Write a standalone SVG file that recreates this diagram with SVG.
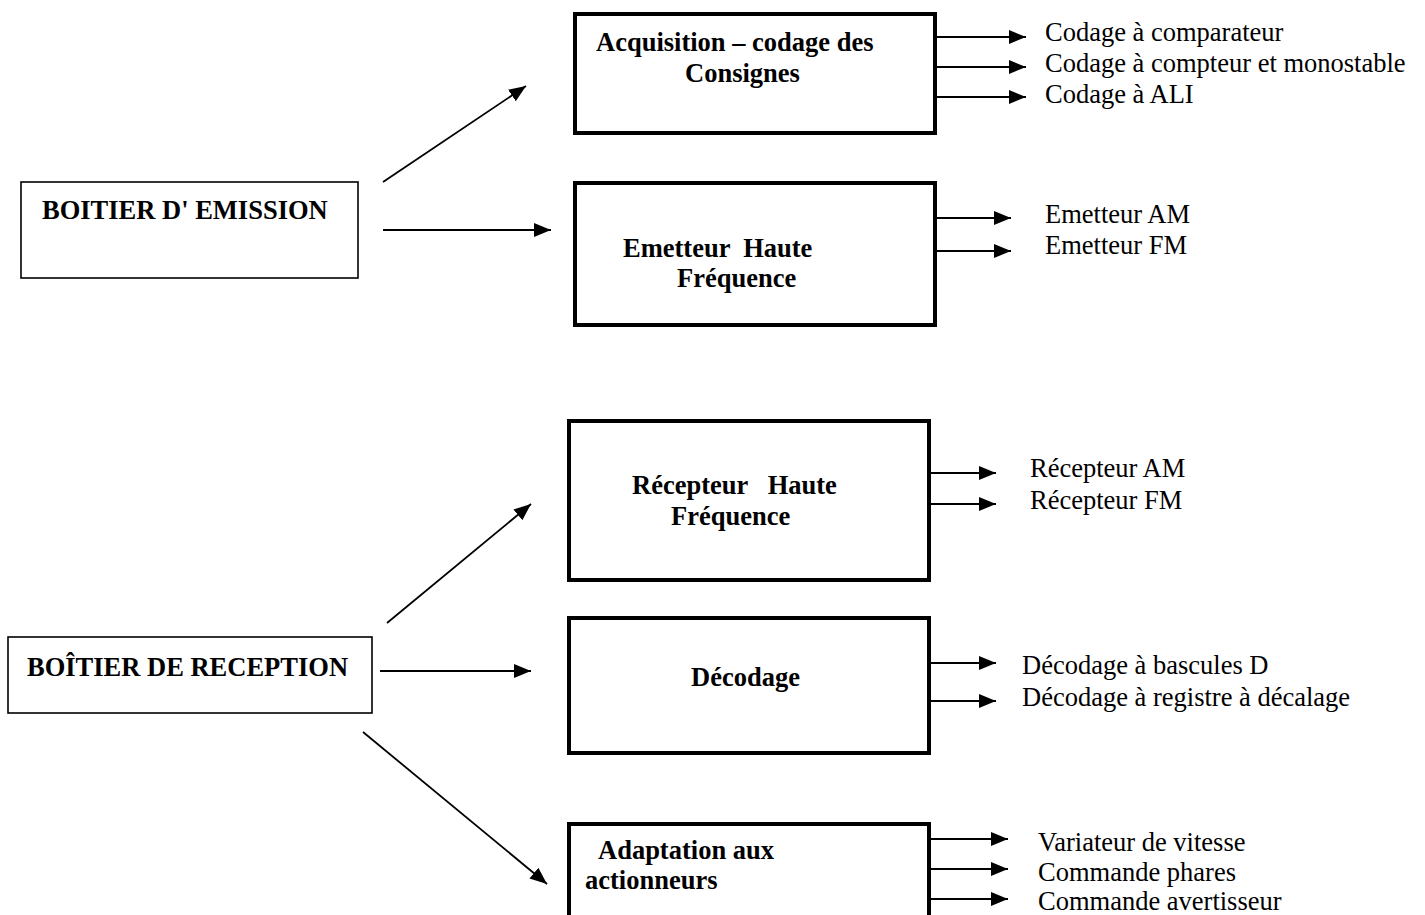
<svg xmlns="http://www.w3.org/2000/svg" width="1425" height="915" viewBox="0 0 1425 915">
<style>
text{font-family:"Liberation Serif","Times New Roman",serif;font-size:26.5px;fill:#000}
.b{font-weight:bold}
.thick{fill:#fff;stroke:#000;stroke-width:4}
.thin{fill:#fff;stroke:#000;stroke-width:1.6}
.c{stroke:#000;stroke-width:1.8;fill:none}
.o{stroke:#000;stroke-width:2;fill:none}
</style>
<defs>
<marker id="ah" markerUnits="userSpaceOnUse" markerWidth="20" markerHeight="16" refX="17" refY="7" orient="auto">
<path d="M0,0 L17,7 L0,14 z" fill="#000"/>
</marker>
</defs>
<rect width="1425" height="915" fill="#fff"/>
<g id="emission">
<rect class="thin" x="21" y="182" width="337" height="96"/>
<text class="b" x="42" y="219">BOITIER D' EMISSION</text>
</g>
<g id="acquisition">
<rect class="thick" x="575" y="14" width="360" height="119"/>
<text class="b" x="596" y="51">Acquisition – codage des</text>
<text class="b" x="685" y="82">Consignes</text>
</g>
<g id="emetteur">
<rect class="thick" x="575" y="183" width="360" height="142"/>
<text class="b" x="623" y="257" xml:space="preserve">Emetteur  Haute</text>
<text class="b" x="677" y="287">Fréquence</text>
</g>
<g id="reception">
<rect class="thin" x="8" y="637" width="364" height="76"/>
<text class="b" x="27" y="676">BOÎTIER DE RECEPTION</text>
</g>
<g id="recepteur">
<rect class="thick" x="569" y="421" width="360" height="159"/>
<text class="b" x="632" y="494" xml:space="preserve">Récepteur   Haute</text>
<text class="b" x="671" y="525">Fréquence</text>
</g>
<g id="decodage">
<rect class="thick" x="569" y="618" width="360" height="135"/>
<text class="b" x="691" y="686">Décodage</text>
</g>
<g id="adaptation">
<rect class="thick" x="569" y="824" width="360" height="130"/>
<text class="b" x="598" y="859">Adaptation aux</text>
<text class="b" x="585" y="889">actionneurs</text>
</g>
<g id="outputs">
<text x="1045" y="41">Codage à comparateur</text>
<text x="1045" y="72">Codage à compteur et monostable</text>
<text x="1045" y="103">Codage à ALI</text>
<text x="1045" y="223">Emetteur AM</text>
<text x="1045" y="254">Emetteur FM</text>
<text x="1030" y="477">Récepteur AM</text>
<text x="1030" y="509">Récepteur FM</text>
<text x="1022" y="674">Décodage à bascules D</text>
<text x="1022" y="706">Décodage à registre à décalage</text>
<text x="1038" y="851">Variateur de vitesse</text>
<text x="1038" y="881">Commande phares</text>
<text x="1038" y="910">Commande avertisseur</text>
</g>
<g id="connectors">
<line class="c" x1="383" y1="182" x2="526" y2="86" marker-end="url(#ah)"/>
<line class="c" x1="383" y1="230" x2="551" y2="230" marker-end="url(#ah)"/>
<line class="c" x1="387" y1="623" x2="531" y2="504" marker-end="url(#ah)"/>
<line class="c" x1="380" y1="671" x2="531" y2="671" marker-end="url(#ah)"/>
<line class="c" x1="363" y1="732" x2="547" y2="884" marker-end="url(#ah)"/>
<line class="o" x1="935" y1="37" x2="1026" y2="37" marker-end="url(#ah)"/>
<line class="o" x1="935" y1="67" x2="1026" y2="67" marker-end="url(#ah)"/>
<line class="o" x1="935" y1="97" x2="1026" y2="97" marker-end="url(#ah)"/>
<line class="o" x1="935" y1="218" x2="1011" y2="218" marker-end="url(#ah)"/>
<line class="o" x1="935" y1="251" x2="1011" y2="251" marker-end="url(#ah)"/>
<line class="o" x1="927" y1="473" x2="996" y2="473" marker-end="url(#ah)"/>
<line class="o" x1="927" y1="504" x2="996" y2="504" marker-end="url(#ah)"/>
<line class="o" x1="927" y1="663" x2="996" y2="663" marker-end="url(#ah)"/>
<line class="o" x1="927" y1="701" x2="996" y2="701" marker-end="url(#ah)"/>
<line class="o" x1="927" y1="839" x2="1008" y2="839" marker-end="url(#ah)"/>
<line class="o" x1="927" y1="869" x2="1008" y2="869" marker-end="url(#ah)"/>
<line class="o" x1="927" y1="899" x2="1008" y2="899" marker-end="url(#ah)"/>
</g>
</svg>
